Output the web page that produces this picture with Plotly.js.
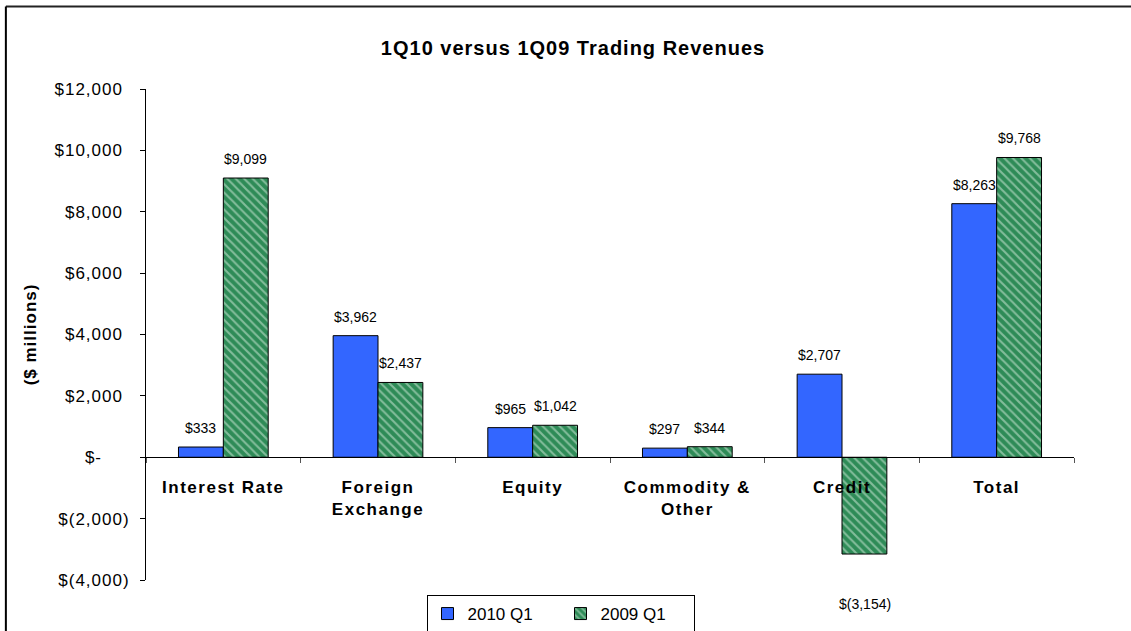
<!DOCTYPE html>
<html>
<head>
<meta charset="utf-8">
<script src="https://cdn.plot.ly/plotly-3.0.1.min.js"></script>
<style>
html,body{margin:0;padding:0;background:#fff;}
#chart{width:1131px;height:631px;}
#chart .gtitle{letter-spacing:1px;}
#chart .xtick text{letter-spacing:1.5px;}
#chart .ytick text{letter-spacing:1px;}
#chart .ytitle{letter-spacing:1px;}
</style>
</head>
<body>
<div id="chart"></div>
<script>
var categories = ["Interest Rate", "Foreign<br>Exchange", "Equity", "Commodity &<br>Other", "Credit", "Total"];
var seriesNames = ["2010 Q1", "2009 Q1"];
var q1_2010 = [333, 3962, 965, 297, 2707, 8263];
var q1_2009 = [9099, 2437, 1042, 344, -3154, 9768];
var yTickVals = [12000, 10000, 8000, 6000, 4000, 2000, 0, -2000, -4000];
var yTickText = ["$12,000", "$10,000", "$8,000", "$6,000", "$4,000", "$2,000", "$-", "$(2,000)", "$(4,000)"];

// Excel accounting format pads positives with the width of ")" and "-" with "00)"
var HIDE = "<span style='color:rgba(0,0,0,0)'>";
var yTickShown = yTickText.map(function (t) {
  if (t === "$-") return t + HIDE + "00)</span>";
  if (t.indexOf("(") >= 0) return t;
  return t + HIDE + ")</span>";
});

function fmt(v) {
  var a = Math.abs(v).toLocaleString("en-US");
  return v < 0 ? "$(" + a + ")" : "$" + a;
}

var FONT = "Liberation Sans, Arial, sans-serif";

var trace1 = {
  type: "bar", name: seriesNames[0], x: categories, y: q1_2010,
  marker: {color: "#3366FF", line: {color: "#000", width: 1}},
  hoverinfo: "none"
};
var trace2 = {
  type: "bar", name: seriesNames[1], x: categories, y: q1_2009,
  marker: {color: "#2E8B57", line: {color: "#000", width: 1},
    pattern: {shape: "\\", fillmode: "overlay", bgcolor: "#2E8B57", fgcolor: "#D8EEDF", size: 6, solidity: 0.35}},
  hoverinfo: "none"
};

var annotations = [];
function addLabels(vals, shift) {
  for (var i = 0; i < vals.length; i++) {
    var v = vals[i];
    annotations.push({
      x: categories[i], y: v, xref: "x", yref: "y", text: fmt(v), showarrow: false,
      xshift: shift, yshift: v < 0 ? -50 : 19, yanchor: "middle",
      font: {family: FONT, size: 14, color: "#000"}
    });
  }
}
addLabels(q1_2010, -22.5);
addLabels(q1_2009, 22.5);

var layout = {
  width: 1131, height: 631,
  margin: {l: 146, r: 57, t: 89, b: 51, autoexpand: false},
  paper_bgcolor: "#fff", plot_bgcolor: "#fff",
  font: {family: FONT, color: "#000"},
  title: {text: "<b>1Q10 versus 1Q09 Trading Revenues</b>", x: 573 / 1131, xref: "container", xanchor: "center",
    y: 1 - 48 / 631, yref: "container", yanchor: "middle",
    font: {size: 20, family: FONT, color: "#000"}},
  barmode: "group", bargap: 0.42, bargroupgap: 0,
  showlegend: true,
  legend: {orientation: "h", xref: "container", yref: "container", x: 560.5 / 1131, xanchor: "center",
    y: 1 - 595 / 631, yanchor: "top", itemwidth: 30, entrywidth: 88, entrywidthmode: "pixels",
    bordercolor: "#000", borderwidth: 1, bgcolor: "#fff",
    font: {size: 17, family: FONT}},
  xaxis: {
    type: "category", anchor: "free", position: 0.25,
    showline: true, linecolor: "#000", linewidth: 1,
    ticks: "outside", tickson: "boundaries", ticklen: 5, tickcolor: "#555",
    showgrid: false, zeroline: false,
    tickfont: {size: 17, family: FONT, color: "#000", weight: "bold"},
    ticklabelstandoff: 14
  },
  yaxis: {
    range: [-4000, 12000], tickvals: yTickVals, ticktext: yTickShown,
    showline: true, linecolor: "#000", linewidth: 1,
    ticks: "outside", ticklen: 5, tickcolor: "#000",
    showgrid: false, zeroline: false, ticklabelstandoff: 7,
    tickfont: {size: 17, family: FONT, color: "#000"},
    title: {text: "<b>($ millions)</b>", standoff: 21, font: {size: 17, family: FONT}}
  },
  annotations: annotations,
  shapes: [
    {type: "line", xref: "paper", yref: "paper", x0: -0.151, x1: 1.2, y0: 1.168, y1: 1.168, line: {color: "#222", width: 2}},
    {type: "line", xref: "paper", yref: "paper", x0: -0.151, x1: -0.151, y0: -0.3, y1: 1.168, line: {color: "#000", width: 2}}
  ]
};

Plotly.newPlot("chart", [trace1, trace2], layout, {displayModeBar: false, staticPlot: true});
</script>
</body>
</html>
